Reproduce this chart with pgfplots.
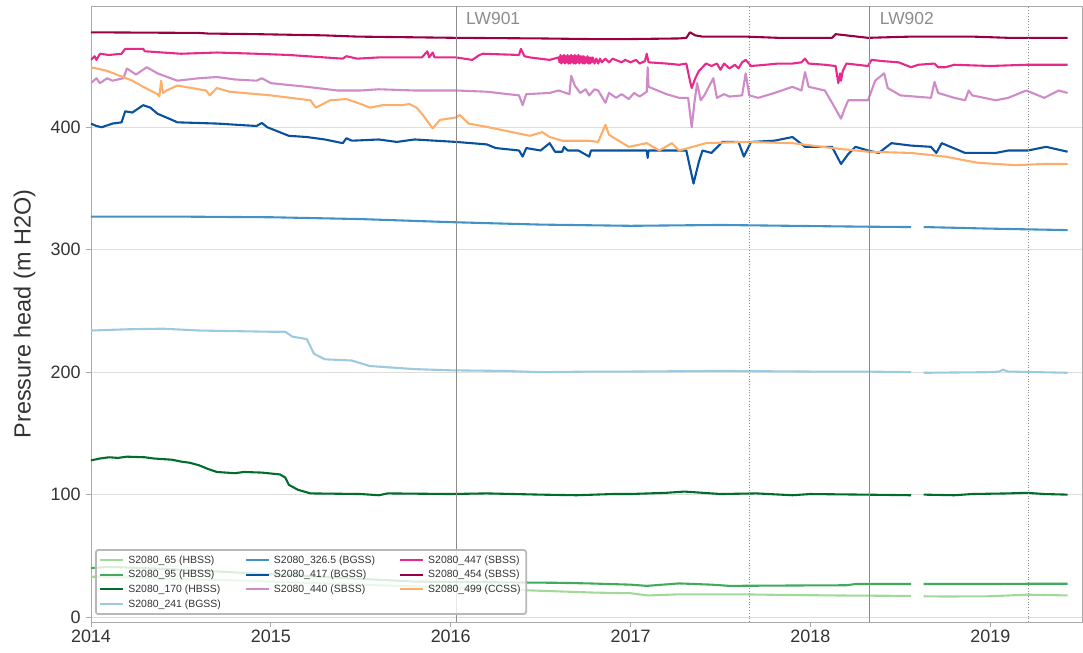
\documentclass[border=0pt]{standalone}
\usepackage{pgfplots}
\pgfplotsset{compat=1.18}
\usepackage{fontspec}
\setmainfont{Liberation Sans}
\definecolor{cA}{HTML}{A1D99B}
\definecolor{cB}{HTML}{41AB5D}
\definecolor{cC}{HTML}{006D2C}
\definecolor{cD}{HTML}{9ECAE1}
\definecolor{cE}{HTML}{4292C6}
\definecolor{cF}{HTML}{08519C}
\definecolor{cG}{HTML}{CE8BC8}
\definecolor{cH}{HTML}{E7298A}
\definecolor{cI}{HTML}{980043}
\definecolor{cJ}{HTML}{FDAE6B}
\definecolor{txt}{HTML}{333333}
\definecolor{frm}{HTML}{AAAAAA}
\begin{document}
\begin{tikzpicture}
\path[use as bounding box] (-91bp,-31bp) rectangle (992bp,622bp);
\begin{axis}[
  at={(0,0)}, anchor=south west,
  scale only axis, width=991bp, height=616bp,
  xmin=2014, xmax=2019.51, ymin=-4, ymax=499,
  xtick={2014,2015,2016,2017,2018,2019},
  xticklabels={2014,2015,2016,2017,2018,2019},
  ytick={0,100,200,300,400},
  /pgf/number format/assume math mode=true,
  /pgf/number format/1000 sep={},
  tick label style={font=\fontsize{18}{21}\selectfont, text=txt},
  yticklabel style={xshift=-2bp},
  xticklabel style={yshift=1bp},
  ylabel={Pressure head (m H2O)},
  ylabel style={font=\fontsize{23.5}{26}\selectfont, text=txt, at={(-0.061,0.5)}, anchor=base},
  ymajorgrids=true,
  major grid style={draw=black!13, line width=0.7pt},
  axis line style={draw=frm, line width=0.9pt},
  tick align=outside, xtick pos=bottom, ytick pos=left,
  major tick length=5bp,
  tick style={draw=frm, line width=0.8pt},
  unbounded coords=jump,
  every axis plot/.append style={line width=2.1pt, line join=round},
  legend image code/.code={\draw[#1] (0bp,0bp) -- (23bp,0bp);},
  legend cell align=left,
  legend columns=3,
  legend style={at={(0.004,0.0114)}, anchor=south west,
    font=\fontsize{10.5}{12}\selectfont, text=txt,
    draw=black!28, line width=1.8pt, rounded corners=2.5pt,
    fill=white, fill opacity=0.8, text opacity=1, draw opacity=1,
    inner sep=3.5bp, row sep=1.6bp,
    /tikz/every even column/.append style={column sep=22bp},
    /tikz/every odd column/.append style={column sep=2bp}},
]
% S2080_65
\addplot[cA, forget plot] coordinates {
(2014.00,33) (2014.2,32.5) (2014.5,31) (2014.8,30) (2015.0,29) (2015.3,27.5) (2015.6,26) (2016.0,24) (2016.3,22.5) (2016.5,21.5) (2016.8,20) (2017.0,19.5) (2017.05,18.5) (2017.1,17.7) (2017.27,18.6) (2017.6,18.6) (2017.9,18) (2018.2,17.6) (2018.56,17.3) (2018.59,nan) (2018.63,17) (2018.75,16.8) (2019.0,17) (2019.2,18.3) (2019.43,17.7)};
% S2080_95
\addplot[cB, forget plot] coordinates {
(2014.00,40) (2014.1,41) (2014.3,40) (2014.6,38) (2015.0,35) (2015.4,32) (2015.8,29) (2016.2,28.5) (2016.6,28) (2016.77,27.5) (2017.0,26.5) (2017.09,25.5) (2017.27,27.5) (2017.45,26.5) (2017.55,25.5) (2017.9,25.8) (2018.2,26) (2018.25,27) (2018.56,27) (2018.59,nan) (2018.63,27) (2019.0,27) (2019.2,27.2) (2019.43,27.2)};
% S2080_170
\addplot[cC, forget plot] coordinates {
(2014.00,128) (2014.05,129.5) (2014.1,130.5) (2014.15,130) (2014.2,131) (2014.3,130.5) (2014.35,129.5) (2014.45,128.5) (2014.5,127) (2014.55,126) (2014.6,124) (2014.65,121) (2014.7,118.5) (2014.8,117.5) (2014.85,118.5) (2014.95,118) (2015.05,116.5) (2015.08,114) (2015.1,108) (2015.15,104) (2015.22,101) (2015.5,100.5) (2015.6,99.5) (2015.65,101) (2016.0,100.5) (2016.2,101) (2016.5,100) (2016.7,99.5) (2016.9,100.5) (2017.0,100.5) (2017.2,101.5) (2017.3,102.5) (2017.4,101.5) (2017.5,100.5) (2017.7,101) (2017.9,99.5) (2018.0,100.5) (2018.3,100) (2018.56,99.5) (2018.59,nan) (2018.63,100) (2018.8,99.5) (2018.9,100.5) (2019.1,101) (2019.2,101.5) (2019.3,100.5) (2019.43,100)};
% S2080_241
\addplot[cD, forget plot] coordinates {
(2014.00,234) (2014.2,235) (2014.4,235.5) (2014.6,234) (2014.8,233.5) (2015.0,233) (2015.08,233) (2015.12,229) (2015.2,227) (2015.24,215) (2015.3,210.5) (2015.45,209.5) (2015.55,205) (2015.8,202.5) (2016.0,201.5) (2016.3,201) (2016.5,200) (2016.8,200.5) (2017.0,200.5) (2017.5,201) (2018.0,200.5) (2018.3,200.5) (2018.56,200) (2018.59,nan) (2018.63,199.5) (2019.0,200) (2019.05,200.5) (2019.07,202) (2019.1,200.5) (2019.43,199.5)};
% S2080_326.5
\addplot[cE, forget plot] coordinates {
(2014.00,327) (2014.5,327) (2015.0,326.5) (2015.5,325) (2016.0,322.5) (2016.5,320.5) (2017.0,319.5) (2017.5,320.2) (2018.0,319.3) (2018.3,318.8) (2018.56,318.5) (2018.59,nan) (2018.63,318.5) (2019.0,317.2) (2019.43,316)};
% S2080_417
\addplot[cF, forget plot] coordinates {
(2014.00,403) (2014.03,401) (2014.06,400) (2014.12,403) (2014.17,404) (2014.19,413) (2014.23,412) (2014.29,418) (2014.33,416) (2014.37,411) (2014.45,406) (2014.48,404) (2014.7,403) (2014.92,401) (2014.95,403.5) (2014.98,400) (2015.1,393) (2015.2,392) (2015.3,390) (2015.4,387) (2015.42,391) (2015.45,389) (2015.6,390) (2015.7,388) (2015.8,390) (2016.03,388) (2016.2,386) (2016.25,383) (2016.38,381) (2016.40,376) (2016.42,383) (2016.5,381) (2016.55,387) (2016.58,380) (2016.62,380) (2016.63,384) (2016.65,381) (2016.71,381) (2016.77,376) (2016.78,381) (2017.0,381) (2017.09,381) (2017.095,375) (2017.1,381) (2017.31,381) (2017.35,354) (2017.38,372) (2017.40,381) (2017.45,379) (2017.51,388) (2017.60,388) (2017.63,376) (2017.67,388) (2017.8,389) (2017.9,392) (2017.97,384) (2018.12,384) (2018.17,370) (2018.21,378) (2018.25,384) (2018.32,381) (2018.38,379) (2018.45,387) (2018.56,385) (2018.67,384) (2018.70,379) (2018.73,387) (2018.86,379) (2019.03,379) (2019.1,381) (2019.21,381) (2019.31,384) (2019.43,380)};
% S2080_440
\addplot[cG, forget plot] coordinates {
(2014.00,436) (2014.03,440) (2014.05,436) (2014.09,440) (2014.12,438) (2014.18,440) (2014.20,448) (2014.25,443) (2014.31,449) (2014.37,444) (2014.48,438) (2014.6,440) (2014.7,441) (2014.8,439) (2014.92,438) (2014.95,440) (2015.0,436) (2015.2,433) (2015.37,430) (2015.5,430) (2015.6,431) (2015.8,430) (2016.03,430) (2016.2,429) (2016.38,426) (2016.40,418) (2016.42,427) (2016.55,428) (2016.6,430) (2016.66,427) (2016.67,442) (2016.69,434) (2016.72,428) (2016.75,431) (2016.77,426) (2016.8,431) (2016.82,430) (2016.86,420) (2016.88,428) (2016.92,424) (2016.95,427) (2016.99,423) (2017.02,428) (2017.05,425) (2017.09,429) (2017.095,449) (2017.1,433) (2017.15,430) (2017.2,427) (2017.27,424) (2017.32,424) (2017.34,400) (2017.355,420) (2017.37,436) (2017.39,422) (2017.41,426) (2017.46,440) (2017.48,424) (2017.52,427) (2017.55,425) (2017.62,426) (2017.64,444) (2017.66,426) (2017.71,424) (2017.8,428) (2017.9,433) (2017.95,430) (2017.97,445) (2017.99,433) (2018.08,430) (2018.12,420) (2018.17,407) (2018.19,415) (2018.21,422) (2018.32,422) (2018.36,438) (2018.41,444) (2018.43,432) (2018.5,426) (2018.67,424) (2018.69,437) (2018.71,428) (2018.8,424) (2018.86,422) (2018.88,430) (2018.9,426) (2019.03,422) (2019.1,424) (2019.2,430) (2019.3,424) (2019.38,430) (2019.43,428)};
% S2080_447
\addplot[cH, forget plot] coordinates {
(2014.00,455) (2014.02,458) (2014.03,455) (2014.05,460) (2014.1,459) (2014.17,460) (2014.19,464) (2014.29,464) (2014.3,462) (2014.5,460) (2014.7,461) (2014.92,460) (2015.1,459) (2015.3,457) (2015.4,456) (2015.42,458) (2015.48,456) (2015.6,457) (2015.84,457) (2015.87,462) (2015.88,457) (2015.9,461) (2015.91,457) (2016.03,457) (2016.12,455) (2016.16,459) (2016.18,460) (2016.38,459) (2016.39,464) (2016.41,458) (2016.44,457) (2016.55,455) (2016.6,457) (2016.605,453) (2016.61,459) (2016.615,452) (2016.62,458) (2016.625,453) (2016.63,459) (2016.635,452) (2016.64,458) (2016.645,453) (2016.65,459) (2016.655,452) (2016.66,458) (2016.665,452) (2016.67,459) (2016.675,453) (2016.68,458) (2016.685,452) (2016.69,459) (2016.695,452) (2016.70,458) (2016.705,453) (2016.71,459) (2016.715,452) (2016.72,458) (2016.725,453) (2016.73,458) (2016.735,452) (2016.74,458) (2016.745,452) (2016.75,457) (2016.755,453) (2016.76,458) (2016.765,452) (2016.77,457) (2016.775,452) (2016.78,457) (2016.785,453) (2016.79,457) (2016.80,452) (2016.81,456) (2016.82,452) (2016.83,456) (2016.84,453) (2016.86,456) (2016.88,453) (2016.9,456) (2016.95,453) (2016.97,455) (2017.0,453) (2017.03,455) (2017.05,452) (2017.08,454) (2017.09,460) (2017.1,453) (2017.2,452) (2017.27,451) (2017.31,452) (2017.33,438) (2017.34,432) (2017.36,440) (2017.38,446) (2017.42,452) (2017.45,450) (2017.48,452) (2017.5,447) (2017.52,452) (2017.55,448) (2017.58,451) (2017.6,448) (2017.62,453) (2017.64,455) (2017.67,450) (2017.75,451) (2017.82,452) (2017.9,452) (2017.95,453) (2017.97,456) (2017.99,452) (2018.08,451) (2018.14,450) (2018.155,436) (2018.165,444) (2018.17,438) (2018.18,446) (2018.2,452) (2018.32,450) (2018.34,455) (2018.4,454) (2018.49,453) (2018.56,449) (2018.6,451) (2018.69,452) (2018.71,449) (2018.75,449) (2018.8,451) (2019.0,450) (2019.2,451) (2019.43,451)};
% S2080_454
\addplot[cI, forget plot] coordinates {
(2014.00,477.5) (2014.6,477) (2014.65,476.5) (2014.92,476) (2015.3,475) (2015.48,474) (2016.03,473) (2016.5,472.5) (2016.77,472) (2017.0,472) (2017.27,472.5) (2017.31,473) (2017.33,477.5) (2017.36,475) (2017.4,474) (2017.64,474) (2017.82,473) (2018.12,473) (2018.14,476) (2018.2,475) (2018.32,473) (2018.56,474) (2018.9,474) (2019.1,473) (2019.43,473)};
% S2080_499
\addplot[cJ, forget plot] coordinates {
(2014.00,449) (2014.09,446) (2014.23,438) (2014.29,433) (2014.37,427) (2014.38,425) (2014.39,438) (2014.40,428) (2014.42,430) (2014.48,434) (2014.64,430) (2014.66,426) (2014.70,432) (2014.77,429) (2015.0,426) (2015.22,422) (2015.25,416) (2015.33,422) (2015.42,423) (2015.5,419) (2015.55,416) (2015.62,418) (2015.73,418) (2015.77,419) (2015.81,416) (2015.84,411) (2015.90,399) (2015.94,406) (2016.03,408) (2016.05,410) (2016.10,403) (2016.21,400) (2016.44,393) (2016.51,396) (2016.55,392) (2016.62,389) (2016.77,389) (2016.82,388) (2016.86,402) (2016.88,394) (2016.90,392) (2016.99,384) (2017.09,387) (2017.16,381) (2017.23,387) (2017.27,381) (2017.42,387) (2017.64,388) (2017.9,387) (2018.12,383) (2018.32,380) (2018.56,379) (2018.75,376) (2018.93,371) (2019.14,369) (2019.3,370) (2019.43,370)};
% reference lines
\draw[black!45, line width=0.9pt] (axis cs:2016.03,-4) -- (axis cs:2016.03,499);
\draw[black!45, line width=0.9pt] (axis cs:2018.33,-4) -- (axis cs:2018.33,499);
\draw[black!45, line width=0.8pt, dotted] (axis cs:2017.66,-4) -- (axis cs:2017.66,499);
\draw[black!45, line width=0.8pt, dotted] (axis cs:2019.21,-4) -- (axis cs:2019.21,499);
\node[anchor=north west, text=black!45, font=\fontsize{17.5}{20}\selectfont, inner sep=0pt] at (axis cs:2016.085,494) {LW901};
\node[anchor=north west, text=black!45, font=\fontsize{17.5}{20}\selectfont, inner sep=0pt] at (axis cs:2018.385,494) {LW902};
% legend (row-wise order to match column layout)
\addlegendimage{cA, line width=2.1pt}\addlegendentry{S2080\_65 (HBSS)}
\addlegendimage{cE, line width=2.1pt}\addlegendentry{S2080\_326.5 (BGSS)}
\addlegendimage{cH, line width=2.1pt}\addlegendentry{S2080\_447 (SBSS)}
\addlegendimage{cB, line width=2.1pt}\addlegendentry{S2080\_95 (HBSS)}
\addlegendimage{cF, line width=2.1pt}\addlegendentry{S2080\_417 (BGSS)}
\addlegendimage{cI, line width=2.1pt}\addlegendentry{S2080\_454 (SBSS)}
\addlegendimage{cC, line width=2.1pt}\addlegendentry{S2080\_170 (HBSS)}
\addlegendimage{cG, line width=2.1pt}\addlegendentry{S2080\_440 (SBSS)}
\addlegendimage{cJ, line width=2.1pt}\addlegendentry{S2080\_499 (CCSS)}
\addlegendimage{cD, line width=2.1pt}\addlegendentry{S2080\_241 (BGSS)}
\end{axis}
\end{tikzpicture}
\end{document}
